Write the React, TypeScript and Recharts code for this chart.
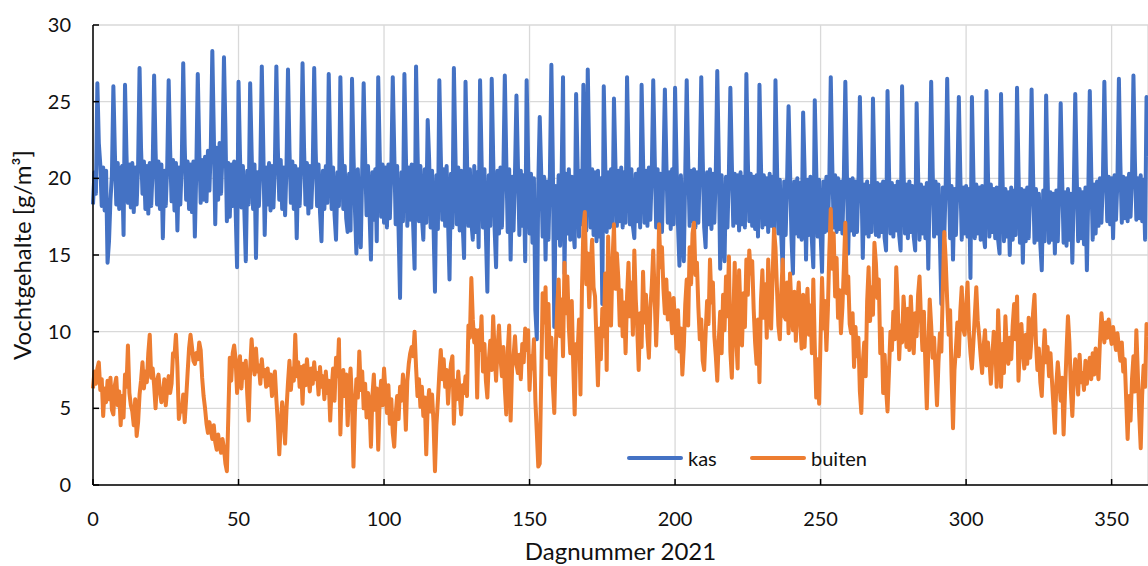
import React from 'react';
import { LineChart, Line, XAxis, YAxis, CartesianGrid, Legend, Label } from 'recharts';

// Humidity samples every half day (day 0 .. 362.5), one row of 20 per 10 days
const STEP = 0.5;

const kas: number[] = [
  18.3, 20.4, 19.0, 26.2, 22.3, 20.9, 18.2, 20.7, 17.9, 20.5, 14.5, 15.9, 18.6, 20.2, 26.0, 21.8, 18.3, 21.0, 18.0, 20.6,
  20.8, 16.3, 26.1, 21.6, 18.4, 20.9, 18.1, 21.0, 17.8, 20.7, 18.3, 20.9, 27.2, 22.0, 19.0, 21.1, 18.0, 20.8, 17.7, 21.0,
  18.2, 20.6, 26.7, 21.8, 18.3, 21.1, 18.0, 20.9, 16.1, 20.5, 18.2, 20.8, 26.4, 21.9, 18.5, 21.2, 17.9, 21.0, 16.6, 20.7,
  18.3, 21.0, 27.5, 22.2, 18.6, 21.1, 18.0, 20.9, 17.8, 21.1, 16.2, 20.6, 26.8, 22.0, 18.4, 21.2, 18.6, 21.4, 18.5, 21.8,
  19.2, 22.2, 28.3, 23.0, 17.0, 22.0, 18.6, 22.3, 19.0, 21.6, 27.9, 23.2, 17.2, 21.0, 17.5, 20.9, 18.2, 21.1, 18.0, 14.2,
  26.3, 21.5, 18.1, 20.8, 17.9, 14.6, 20.5, 18.3, 26.2, 21.7, 18.0, 20.9, 14.8, 20.4, 18.2, 20.8, 27.3, 22.1, 16.3, 20.7,
  18.3, 21.0, 17.9, 20.8, 18.1, 20.9, 27.3, 22.0, 18.6, 21.2, 18.0, 20.7, 17.6, 20.9, 27.1, 21.9, 18.4, 21.1, 18.0, 20.8,
  16.1, 20.6, 18.2, 20.9, 27.5, 22.1, 18.3, 21.0, 17.7, 20.8, 18.1, 20.6, 27.2, 21.9, 18.2, 20.9, 17.8, 15.9, 20.5, 18.0,
  20.8, 18.4, 26.8, 21.8, 18.0, 20.7, 17.6, 16.0, 20.4, 18.2, 26.6, 21.6, 18.0, 20.8, 17.4, 16.5, 20.3, 16.6, 26.5, 21.5,
  18.0, 15.1, 20.6, 17.4, 15.5, 20.5, 26.2, 21.4, 17.6, 20.8, 17.9, 14.7, 20.4, 17.3, 20.6, 15.9, 26.6, 21.7, 17.5, 20.9,
  17.1, 20.7, 16.8, 20.9, 17.4, 20.6, 26.6, 21.8, 17.0, 20.8, 16.6, 12.2, 20.4, 17.2, 26.8, 21.6, 16.9, 20.7, 17.3, 20.9,
  17.0, 14.1, 27.3, 21.9, 17.2, 20.8, 17.5, 16.0, 20.6, 17.1, 23.8, 21.2, 16.8, 20.5, 17.0, 12.6, 20.2, 16.7, 26.4, 21.5,
  17.3, 20.6, 16.9, 20.8, 17.2, 13.4, 20.3, 16.8, 27.2, 21.9, 17.0, 20.7, 16.6, 20.5, 17.1, 14.8, 26.3, 21.4, 16.9, 20.6,
  17.2, 16.0, 20.8, 16.5, 20.4, 15.5, 26.4, 21.3, 16.8, 20.6, 16.4, 12.6, 20.2, 16.9, 26.5, 21.4, 16.7, 14.2, 20.5, 16.4,
  20.7, 16.8, 20.3, 26.7, 21.2, 16.5, 20.6, 14.7, 20.1, 16.6, 20.4, 25.4, 20.9, 16.3, 20.5, 16.9, 20.2, 14.6, 26.4, 21.2,
  16.4, 20.3, 15.8, 20.0, 11.4, 9.5, 19.6, 24.0, 20.4, 16.2, 20.1, 14.7, 19.8, 16.0, 20.3, 27.4, 21.0, 10.3, 19.5, 16.1,
  20.2, 15.6, 20.0, 26.6, 13.8, 20.3, 16.4, 20.6, 16.0, 20.1, 16.7, 15.5, 25.5, 20.8, 16.2, 20.5, 17.0, 26.1, 20.9, 16.6,
  27.1, 21.4, 16.8, 20.6, 16.3, 20.4, 15.9, 20.5, 16.2, 20.0, 11.8, 26.0, 21.0, 16.5, 20.4, 16.8, 20.6, 16.9, 25.2, 21.0,
  16.9, 20.5, 17.2, 20.7, 16.8, 20.4, 17.1, 26.6, 21.5, 17.0, 20.6, 16.9, 16.1, 20.3, 17.2, 20.6, 16.8, 26.1, 21.2, 17.1,
  20.5, 16.9, 20.7, 17.3, 20.4, 26.4, 21.4, 16.8, 20.6, 17.0, 20.3, 16.5, 20.5, 25.8, 21.1, 17.1, 20.4, 16.7, 20.6, 17.0,
  25.9, 21.0, 17.0, 14.3, 20.2, 16.6, 14.6, 20.3, 26.4, 21.2, 16.9, 20.5, 17.2, 20.6, 16.8, 20.4, 17.1, 20.7, 26.6, 21.3,
  16.8, 15.5, 20.4, 17.0, 20.6, 16.7, 20.3, 17.1, 20.5, 27.0, 21.4, 14.1, 20.2, 16.5, 14.6, 20.1, 16.8, 20.4, 25.9, 21.0,
  16.9, 20.3, 17.1, 20.2, 16.6, 20.4, 17.0, 20.1, 16.8, 26.8, 21.2, 17.2, 20.3, 16.9, 20.1, 16.7, 20.2, 16.2, 26.1, 21.0,
  16.8, 20.2, 17.0, 20.0, 16.5, 20.3, 16.9, 20.1, 16.6, 26.4, 21.0, 16.4, 19.9, 16.2, 14.0, 19.8, 16.3, 19.9, 24.7, 20.6,
  16.1, 13.8, 19.8, 16.4, 20.0, 16.2, 19.7, 16.0, 24.3, 20.5, 14.7, 19.9, 16.3, 20.1, 16.0, 14.2, 25.1, 20.6, 16.2, 19.9,
  16.4, 13.9, 19.8, 16.5, 20.1, 16.6, 19.9, 26.6, 21.0, 16.8, 20.2, 16.5, 20.0, 16.7, 19.8, 16.4, 20.1, 26.3, 20.8, 15.1,
  19.9, 16.6, 20.0, 16.3, 19.8, 16.5, 19.7, 25.3, 20.5, 14.8, 19.6, 16.4, 19.8, 16.2, 19.5, 16.5, 25.2, 20.4, 16.3, 19.7,
  16.2, 19.6, 16.5, 19.8, 16.1, 15.3, 25.7, 20.6, 16.4, 19.7, 16.2, 19.5, 16.6, 19.8, 16.3, 15.3, 26.0, 20.7, 16.4, 19.6,
  16.1, 19.8, 16.5, 19.5, 16.2, 15.3, 24.9, 20.3, 16.0, 19.6, 16.4, 19.4, 16.1, 19.7, 14.1, 19.5, 26.3, 20.6, 16.2, 19.8,
  16.4, 19.6, 15.9, 11.8, 19.4, 16.2, 19.7, 26.5, 20.6, 16.1, 19.5, 14.7, 19.3, 16.3, 19.6, 25.3, 20.3, 16.0, 19.4, 16.4,
  19.5, 16.2, 19.3, 13.5, 25.3, 20.2, 16.1, 19.6, 16.4, 19.4, 16.0, 19.5, 16.3, 15.5, 25.7, 20.4, 16.2, 19.6, 16.5, 19.3,
  16.1, 19.4, 16.0, 15.1, 25.5, 20.2, 15.9, 19.3, 16.2, 19.1, 15.0, 19.4, 16.0, 19.2, 16.3, 25.9, 20.4, 15.8, 19.3, 14.5,
  19.2, 15.9, 19.4, 16.1, 19.1, 25.8, 20.3, 15.8, 19.3, 16.0, 19.0, 15.7, 14.0, 19.2, 15.9, 25.4, 20.1, 15.8, 19.1, 16.0,
  19.0, 15.1, 19.2, 15.9, 19.3, 24.9, 20.0, 15.8, 19.1, 15.6, 19.3, 16.0, 19.0, 14.5, 19.2, 25.5, 20.2, 15.9, 19.3, 16.1,
  19.1, 15.7, 19.4, 14.0, 19.2, 25.7, 20.4, 16.0, 19.6, 16.4, 19.8, 16.9, 20.0, 17.1, 19.9, 26.3, 20.8, 17.2, 20.1, 17.0,
  20.0, 16.1, 20.2, 17.3, 19.9, 26.5, 21.0, 17.1, 20.1, 17.4, 20.0, 17.2, 20.3, 17.5, 20.1, 26.7, 21.1, 17.3, 20.0, 17.4,
  20.2, 17.2, 19.9, 16.0, 25.3, 21.4,
];

const buiten: number[] = [
  6.3, 7.4, 6.6, 7.6, 8.0, 6.2, 6.9, 4.5, 6.3, 5.4, 6.8, 5.6, 7.0, 4.9, 4.6, 6.5, 7.0, 5.2, 6.1, 3.9,
  5.8, 4.4, 7.2, 6.4, 9.1, 6.0, 5.2, 4.8, 3.9, 5.6, 3.2, 4.1, 5.9, 6.8, 8.0, 6.3, 7.4, 6.7, 8.6, 9.8,
  7.0, 7.6, 6.5, 5.0, 6.8, 7.2, 6.1, 5.4, 5.8, 6.9, 5.2, 6.3, 7.1, 6.0, 6.6, 8.6, 8.4, 9.8, 7.7, 4.3,
  5.0, 4.8, 5.9, 4.1, 5.6, 7.3, 8.9, 9.8, 9.0, 8.1, 7.9, 8.6, 8.2, 9.3, 8.8, 7.0, 5.8, 5.0, 4.0, 3.4,
  4.1, 3.6, 3.0, 3.9, 2.8, 2.3, 3.3, 2.6, 2.1, 3.0, 2.4, 1.4, 0.9, 4.5, 8.3, 6.8, 8.6, 9.1, 8.2, 6.0,
  7.5, 8.4, 6.3, 7.9, 7.0, 8.1, 5.9, 4.2, 7.6, 9.5, 8.0, 7.2, 8.9, 7.4, 7.8, 6.6, 8.2, 7.1, 7.5, 6.4,
  7.6, 6.5, 7.2, 5.8, 6.9, 7.4, 5.6, 4.1, 2.0, 3.9, 5.4, 4.4, 2.7, 5.0, 6.7, 8.1, 6.2, 7.6, 6.8, 9.8,
  7.1, 8.0, 6.4, 7.7, 5.3, 7.8, 6.5, 8.2, 7.0, 6.1, 7.6, 6.6, 8.0, 6.9, 7.3, 5.9, 7.7, 6.4, 7.1, 5.6,
  7.4, 6.0, 6.8, 4.2, 6.3, 7.6, 5.5, 8.3, 7.1, 9.5, 3.3, 6.4, 7.5, 5.8, 7.2, 3.9, 6.5, 7.6, 5.4, 1.2,
  4.8, 6.9, 5.7, 8.7, 6.2, 7.4, 5.0, 6.6, 4.4, 6.0, 5.3, 2.5, 5.8, 7.2, 4.9, 6.3, 2.3, 5.5, 6.8, 5.2,
  7.6, 6.1, 4.7, 6.5, 4.0, 5.6, 3.4, 2.5, 4.6, 5.8, 4.3, 6.4, 5.5, 7.2, 6.0, 3.6, 6.8, 7.9, 8.6, 9.0,
  8.4, 10.0, 7.7, 5.8, 6.9, 5.1, 6.4, 4.5, 5.7, 2.0, 5.2, 6.2, 4.8, 5.9, 4.1, 0.9, 3.9, 5.5, 7.3, 8.8,
  6.9, 8.2, 6.4, 7.5, 5.3, 6.9, 7.9, 8.4, 4.0, 6.8, 5.6, 7.4, 5.9, 4.6, 6.5, 6.0, 7.1, 5.8, 10.4, 9.6,
  13.5, 10.8, 9.3, 10.1, 5.7, 10.1, 8.8, 11.0, 7.4, 9.2, 6.8, 5.7, 8.1, 9.4, 7.5, 11.0, 8.6, 6.8, 8.9, 10.4,
  8.3, 7.1, 9.0, 6.3, 4.6, 8.7, 10.4, 4.2, 7.6, 8.4, 9.7, 7.9, 7.3, 8.5, 6.9, 9.2, 8.0, 10.2, 8.8, 10.1,
  6.2, 8.4, 7.6, 9.5, 5.5, 3.4, 1.2, 1.4, 6.8, 12.5, 10.6, 12.9, 8.3, 11.8, 7.2, 9.6, 6.5, 4.7, 8.8, 11.6,
  13.4, 9.7, 12.1, 8.4, 14.5, 11.2, 13.6, 10.3, 8.6, 12.0, 7.9, 4.6, 9.2, 8.6, 10.8, 5.9, 12.7, 16.8, 17.8, 13.1,
  15.1, 11.6, 14.3, 16.0, 12.9, 12.3, 9.4, 6.5, 10.2, 8.2, 11.5, 9.7, 13.8, 7.5, 16.2, 12.4, 10.4, 14.6, 17.0, 12.8,
  15.1, 13.5, 10.4, 12.7, 9.7, 11.9, 8.6, 12.3, 14.5, 11.0, 13.2, 9.8, 15.3, 12.1, 10.2, 7.5, 11.2, 9.0, 13.9, 10.6,
  12.4, 9.7, 8.3, 11.5, 13.0, 15.3, 12.2, 9.1, 11.8, 17.0, 14.2, 15.5, 12.8, 11.2, 13.4, 10.8, 12.5, 11.3, 9.9, 12.2,
  10.6, 8.9, 11.4, 8.7, 10.2, 7.2, 9.0, 11.8, 13.4, 10.4, 15.5, 13.1, 16.4, 17.1, 13.7, 14.5, 11.6, 9.5, 10.8, 8.1,
  7.5, 9.9, 12.0, 10.5, 14.7, 11.9, 13.2, 9.7, 8.4, 6.8, 9.4, 11.3, 8.6, 12.4, 10.1, 13.6, 11.0, 14.9, 8.7, 7.0,
  10.8, 14.5, 9.6, 7.6, 14.0, 11.2, 9.1, 12.5, 10.3, 14.7, 12.4, 15.3, 13.8, 14.6, 11.5, 9.3, 7.9, 10.8, 6.7, 12.0,
  14.0, 10.9, 13.1, 9.6, 14.7, 11.8, 10.2, 13.5, 16.7, 15.5, 12.9, 10.4, 9.5, 12.6, 14.7, 11.0, 10.8, 13.2, 9.9, 13.8,
  11.5, 10.1, 12.6, 9.4, 11.9, 13.2, 10.6, 8.9, 12.4, 9.0, 11.3, 12.8, 9.8, 11.7, 8.6, 13.4, 9.1, 5.7, 8.2, 5.3,
  9.6, 13.5, 10.2, 12.0, 8.8, 11.4, 15.2, 18.0, 14.1, 16.4, 12.3, 14.8, 10.9, 12.7, 9.9, 11.6, 14.2, 17.1, 12.5, 13.6,
  10.5, 9.9, 11.2, 7.7, 10.3, 8.4, 9.6, 6.1, 4.7, 8.0, 9.3, 7.1, 12.0, 14.2, 10.7, 12.9, 11.1, 15.8, 14.5, 12.2,
  13.4, 8.6, 10.2, 6.0, 8.5, 6.3, 4.8, 7.4, 10.0, 8.8, 11.3, 9.5, 14.2, 11.8, 8.2, 10.4, 9.3, 12.3, 10.8, 9.0,
  11.5, 8.8, 12.3, 10.1, 8.6, 11.2, 9.7, 12.4, 13.6, 10.8, 8.8, 11.3, 7.9, 5.0, 8.7, 12.1, 10.4, 8.3, 9.6, 7.4,
  5.2, 8.0, 9.9, 8.7, 12.8, 16.5, 14.6, 12.0, 9.8, 11.4, 7.2, 3.7, 7.5, 8.9, 10.6, 8.4, 11.3, 12.9, 10.2, 9.8,
  11.6, 13.2, 10.0, 8.6, 7.6, 9.3, 11.1, 12.9, 10.7, 9.7, 8.4, 7.3, 9.0, 10.1, 7.8, 9.3, 8.1, 6.6, 8.3, 10.0,
  9.5, 6.4, 11.4, 8.9, 6.4, 9.2, 7.3, 11.0, 8.8, 7.9, 9.6, 8.2, 10.4, 11.8, 9.5, 12.3, 6.8, 9.1, 10.5, 8.7,
  7.6, 9.8, 7.9, 10.9, 8.3, 9.6, 11.2, 12.4, 9.3, 7.5, 8.9, 6.7, 5.8, 8.4, 10.1, 8.0, 9.0, 7.1, 8.6, 6.8,
  5.2, 3.4, 6.6, 8.0, 6.8, 5.5, 7.0, 3.3, 6.1, 8.7, 11.0, 9.3, 6.2, 4.5, 6.9, 8.2, 7.4, 5.9, 8.5, 6.7,
  7.3, 6.2, 8.1, 6.6, 7.6, 8.3, 6.9, 8.6, 7.2, 8.9, 7.8, 6.9, 9.4, 11.2, 10.1, 9.3, 10.6, 9.6, 10.8, 9.9,
  9.2, 10.3, 9.5, 8.8, 9.9, 9.0, 8.1, 9.3, 7.4, 8.2, 5.6, 3.0, 5.8, 4.2, 6.9, 8.4, 6.1, 10.1, 7.3, 4.5,
  2.4, 5.9, 7.8, 6.4, 10.5, 9.7,
];

const xTicks = [0, 50, 100, 150, 200, 250, 300, 350];
const yTicks = [0, 5, 10, 15, 20, 25, 30];

const series = [
  { key: 'kas', name: 'kas', color: '#4472C4' },
  { key: 'buiten', name: 'buiten', color: '#ED7D31' },
];

const data = kas.map((v, i) => ({ dag: i * STEP, kas: v, buiten: buiten[i] }));

const FONT = 'Lato, "Open Sans", sans-serif';
const TEXT = '#111';

function YTitle(props: any) {
  const vb = props.viewBox || { x: 0, y: 25, width: 93, height: 460 };
  const x = vb.x + 31;
  const y = vb.y + vb.height / 2;
  return (
    <text x={x} y={y} transform={`rotate(-90, ${x}, ${y})`} textAnchor="middle"
      fontFamily={FONT} fontSize={24} fill={TEXT}>
      Vochtgehalte [g/m³]
    </text>
  );
}

function XTitle(props: any) {
  const vb = props.viewBox || { x: 93, y: 485, width: 1055, height: 81 };
  return (
    <text x={vb.x + vb.width / 2} y={vb.y + 75} textAnchor="middle"
      fontFamily={FONT} fontSize={24} fill={TEXT}>
      Dagnummer 2021
    </text>
  );
}

function LegendBox() {
  const offsets = [0, 123];
  return (
    <div style={{ position: 'relative', width: 260, height: 24, fontFamily: FONT, fontSize: 20, color: TEXT }}>
      {series.map((s, i) => (
        <div key={s.key} style={{ position: 'absolute', left: offsets[i], top: 0, height: 24, display: 'flex', alignItems: 'center' }}>
          <svg width={56} height={8} style={{ display: 'block' }}>
            <line x1={2} y1={4} x2={54} y2={4} stroke={s.color} strokeWidth={4} strokeLinecap="round" />
          </svg>
          <span style={{ marginLeft: 5, lineHeight: '24px' }}>{s.name}</span>
        </div>
      ))}
    </div>
  );
}

export default function App() {
  return (
    <div style={{ position: 'absolute', left: 0, top: 0, width: 1148, height: 566, overflow: 'hidden', background: '#fff' }}>
      <LineChart width={1148} height={566} data={data} margin={{ top: 25, right: 0, bottom: 0, left: 0 }}>
        <CartesianGrid stroke="#D9D9D9" strokeWidth={1.3} />
        <XAxis
          dataKey="dag"
          type="number"
          domain={[0, 362.5]}
          ticks={xTicks}
          height={81}
          tickSize={-6}
          tickMargin={33}
          axisLine={{ stroke: '#000', strokeWidth: 1.5 }}
          tickLine={{ stroke: '#000', strokeWidth: 1.5 }}
          tick={{ fontFamily: FONT, fontSize: 20, fill: TEXT }}
          interval={0}
        >
          <Label content={<XTitle />} />
        </XAxis>
        <YAxis
          type="number"
          domain={[0, 30]}
          ticks={yTicks}
          width={93}
          tickSize={-6}
          tickMargin={28}
          axisLine={{ stroke: '#000', strokeWidth: 1.5 }}
          tickLine={{ stroke: '#000', strokeWidth: 1.5 }}
          tick={{ fontFamily: FONT, fontSize: 20, fill: TEXT }}
          interval={0}
        >
          <Label content={<YTitle />} />
        </YAxis>
        <Legend
          layout="horizontal"
          verticalAlign="middle"
          align="center"
          content={<LegendBox />}
          wrapperStyle={{ left: 627, top: 446, width: 260, height: 24 }}
        />
        {series.map((s) => (
          <Line
            key={s.key}
            type="linear"
            dataKey={s.key}
            name={s.name}
            stroke={s.color}
            strokeWidth={4}
            strokeLinejoin="round"
            dot={false}
            activeDot={false}
            isAnimationActive={false}
          />
        ))}
      </LineChart>
    </div>
  );
}
